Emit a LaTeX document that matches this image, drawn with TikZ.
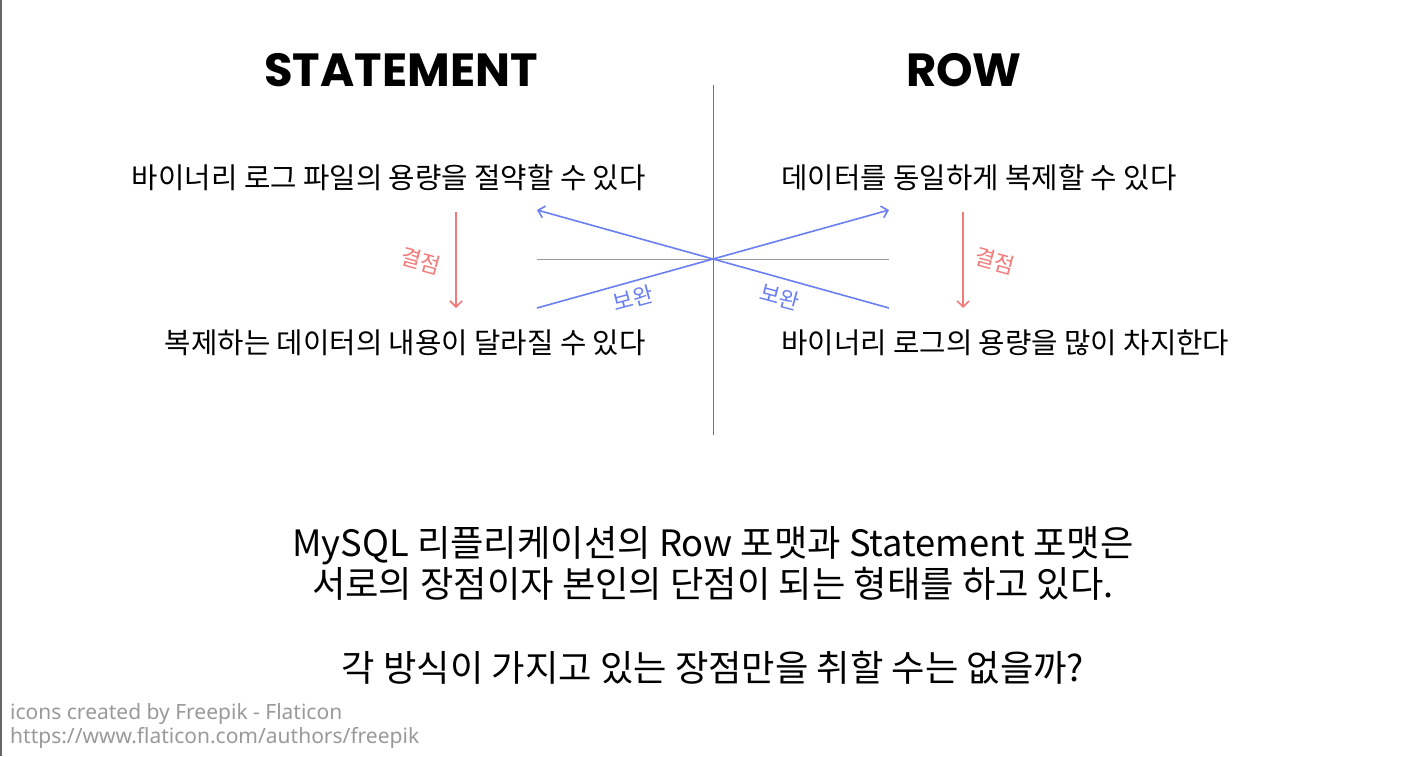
\documentclass[tikz,border=0pt]{standalone}
\usepackage{fontspec}
\setmainfont{Noto Sans CJK KR}
\newfontfamily\titlefont{Poppins}[UprightFont=* Bold]
\newfontfamily\footfont{Noto Sans}
\usetikzlibrary{arrows.meta}
\definecolor{bluel}{HTML}{6B7FF5}
\definecolor{redl}{HTML}{F47A7A}
\definecolor{grayl}{HTML}{999999}
\definecolor{footgray}{HTML}{9A9A9A}
\tikzset{
  title/.style={font=\titlefont\fontsize{46.5}{52}\selectfont, inner sep=0pt},
  body/.style={font=\fontsize{28.7}{32}\selectfont, inner sep=0pt},
  bottomtxt/.style={font=\fontsize{36.3}{41}\selectfont, inner sep=0pt, align=center},
  foot/.style={font=\footfont\fontsize{21}{24}\selectfont, text=footgray, inner sep=0pt, align=left},
  xline/.style={draw=bluel, line width=1.6pt},
  defect/.style={draw=redl, line width=1.6pt, -{Straight Barb[length=6pt,width=12pt]}},
  defectlbl/.style={text=redl, font=\fontsize{22}{24}\selectfont, inner sep=0pt},
  complbl/.style={text=bluel, font=\fontsize{22}{24}\selectfont, inner sep=0pt},
}
\begin{document}
\begin{tikzpicture}[x=1pt,y=-1pt]
\useasboundingbox (0,0) rectangle (1420,756);
\fill[white] (0,0) rectangle (1420,756);
\draw[gray!80!black, line width=1.5pt] (0.75,0) -- (0.75,756);
% titles
\node[title] (st) at (401,70) {STATEMENT};
\node[title] (rw) at (964,70) {ROW};
% axes
\coordinate (vt) at (713,85);
\coordinate (vb) at (713,435);
\draw[gray!90!black, line width=1pt] (vt) -- (vb);
\coordinate (hl) at (537,259);
\coordinate (hr) at (889,259);
\draw[grayl, line width=1pt] (hl) -- (hr);
% texts
\node[body, anchor=east] (s1) at (646,178) {바이너리 로그 파일의 용량을 절약할 수 있다};
\node[body, anchor=east] (s2) at (646,343) {복제하는 데이터의 내용이 달라질 수 있다};
\node[body, anchor=west] (r1) at (781,178) {데이터를 동일하게 복제할 수 있다};
\node[body, anchor=west] (r2) at (781,343) {바이너리 로그의 용량을 많이 차지한다};
% cross arrows
\coordinate (a1s) at (537,308);
\coordinate (a1e) at (889,210);
\coordinate (a2s) at (889,308);
\coordinate (a2e) at (537,210);
\draw[xline, -{Straight Barb[length=6pt,width=12pt]}] (a1s) -- (a1e);
\draw[xline, -{Straight Barb[length=6pt,width=12pt]}] (a2s) -- (a2e);
\node[complbl, rotate=15] (c1) at (633,298) {보완};
\node[complbl, rotate=-15] (c2) at (780,297) {보완};
% defect arrows
\coordinate (d1s) at (456,212);
\coordinate (d1e) at (456,308);
\coordinate (d2s) at (963,212);
\coordinate (d2e) at (963,308);
\draw[defect] (d1s) -- (d1e);
\draw[defect] (d2s) -- (d2e);
\node[defectlbl, rotate=-15] (e1) at (421,261) {결점};
\node[defectlbl, rotate=-15] (e2) at (995,261) {결점};
% bottom text
\node[bottomtxt] (b1) at (713,563) {MySQL 리플리케이션의 Row 포맷과 Statement 포맷은\\서로의 장점이자 본인의 단점이 되는 형태를 하고 있다.};
\node[bottomtxt] (b2) at (713,668) {각 방식이 가지고 있는 장점만을 취할 수는 없을까?};
% footer
\node[foot, anchor=north west] (f1) at (10,703) {icons created by Freepik - Flaticon\\https://www.flaticon.com/authors/freepik};
\end{tikzpicture}
\end{document}
